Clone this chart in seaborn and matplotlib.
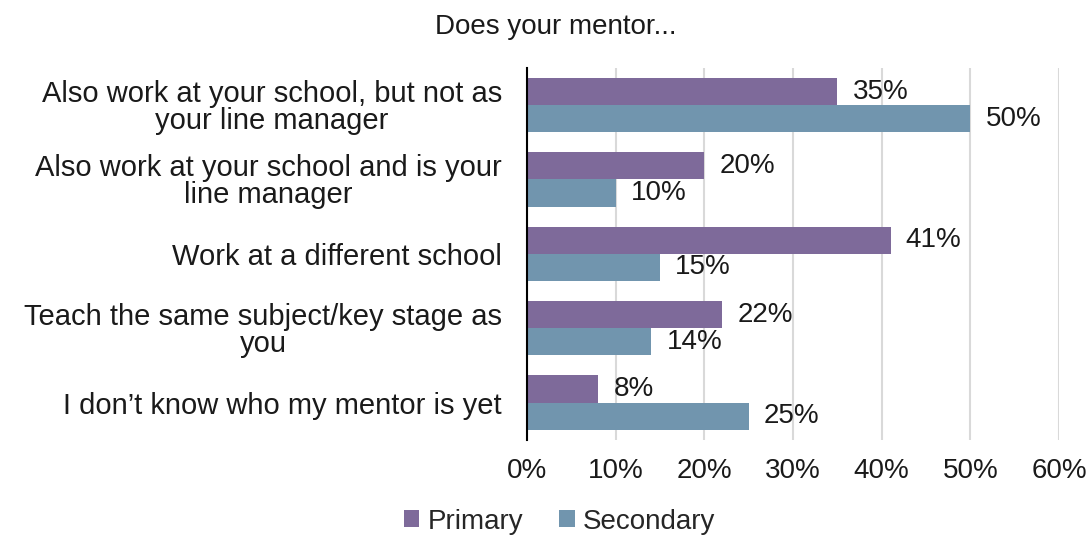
import matplotlib
matplotlib.use("Agg")
import matplotlib.pyplot as plt
import seaborn as sns
import pandas as pd
from matplotlib.ticker import FuncFormatter

categories = [
    "Also work at your school, but not as\nyour line manager",
    "Also work at your school and is your\nline manager",
    "Work at a different school",
    "Teach the same subject/key stage as\nyou",
    "I don\u2019t know who my mentor is yet",
]
primary = [35, 20, 41, 22, 8]
secondary = [50, 10, 15, 14, 25]
series_names = ["Primary", "Secondary"]
colors = ["#7E6A9A", "#7195AE"]

df = pd.DataFrame({
    "category": categories * 2,
    "value": primary + secondary,
    "series": [series_names[0]] * len(categories) + [series_names[1]] * len(categories),
})

sns.set_theme(style="white")
plt.rcParams["font.family"] = ["Liberation Sans", "DejaVu Sans"]

FS = 20
fig = plt.figure(figsize=(10.89, 5.35), dpi=100)
ax = fig.add_axes([0.484, 0.178, 0.4885, 0.695])

sns.barplot(data=df, y="category", x="value", hue="series", orient="h",
            palette=colors, width=0.73, ax=ax, saturation=1, linewidth=0)

for c in ax.containers:
    ax.bar_label(c, labels=[f"{v:.0f}%" for v in c.datavalues], padding=11,
                 fontsize=FS, color="#1a1a1a")

ax.set_xlim(0, 60)
ax.set_xticks(range(0, 61, 10))
ax.xaxis.set_major_formatter(FuncFormatter(lambda v, p: f"{v:.0f}%"))
ax.set_xlabel("")
ax.set_ylabel("")
ax.tick_params(axis="x", labelsize=FS, colors="#1a1a1a", length=0, pad=13)
ax.tick_params(axis="y", labelsize=21, colors="#1a1a1a", length=0, pad=18)
for lab in ax.get_yticklabels():
    lab.set_multialignment("center")
    lab.set_linespacing(0.95)

ax.xaxis.grid(True, color="#d9d9d9", linestyle="-", linewidth=1.5)
ax.set_axisbelow(True)
for s in ["top", "right", "bottom"]:
    ax.spines[s].set_visible(False)
ax.spines["left"].set_color("black")
ax.spines["left"].set_linewidth(1.5)

fig.text(0.51, 0.95, "Does your mentor...", ha="center", va="center",
         fontsize=FS, color="#1a1a1a")

ax.legend(loc="center", bbox_to_anchor=(0.514, 0.025), bbox_transform=fig.transFigure,
          ncol=2, frameon=False, fontsize=FS, handlelength=0.55, handleheight=0.55,
          handletextpad=0.3, columnspacing=1.3)

fig.savefig("out.png", dpi=100)
